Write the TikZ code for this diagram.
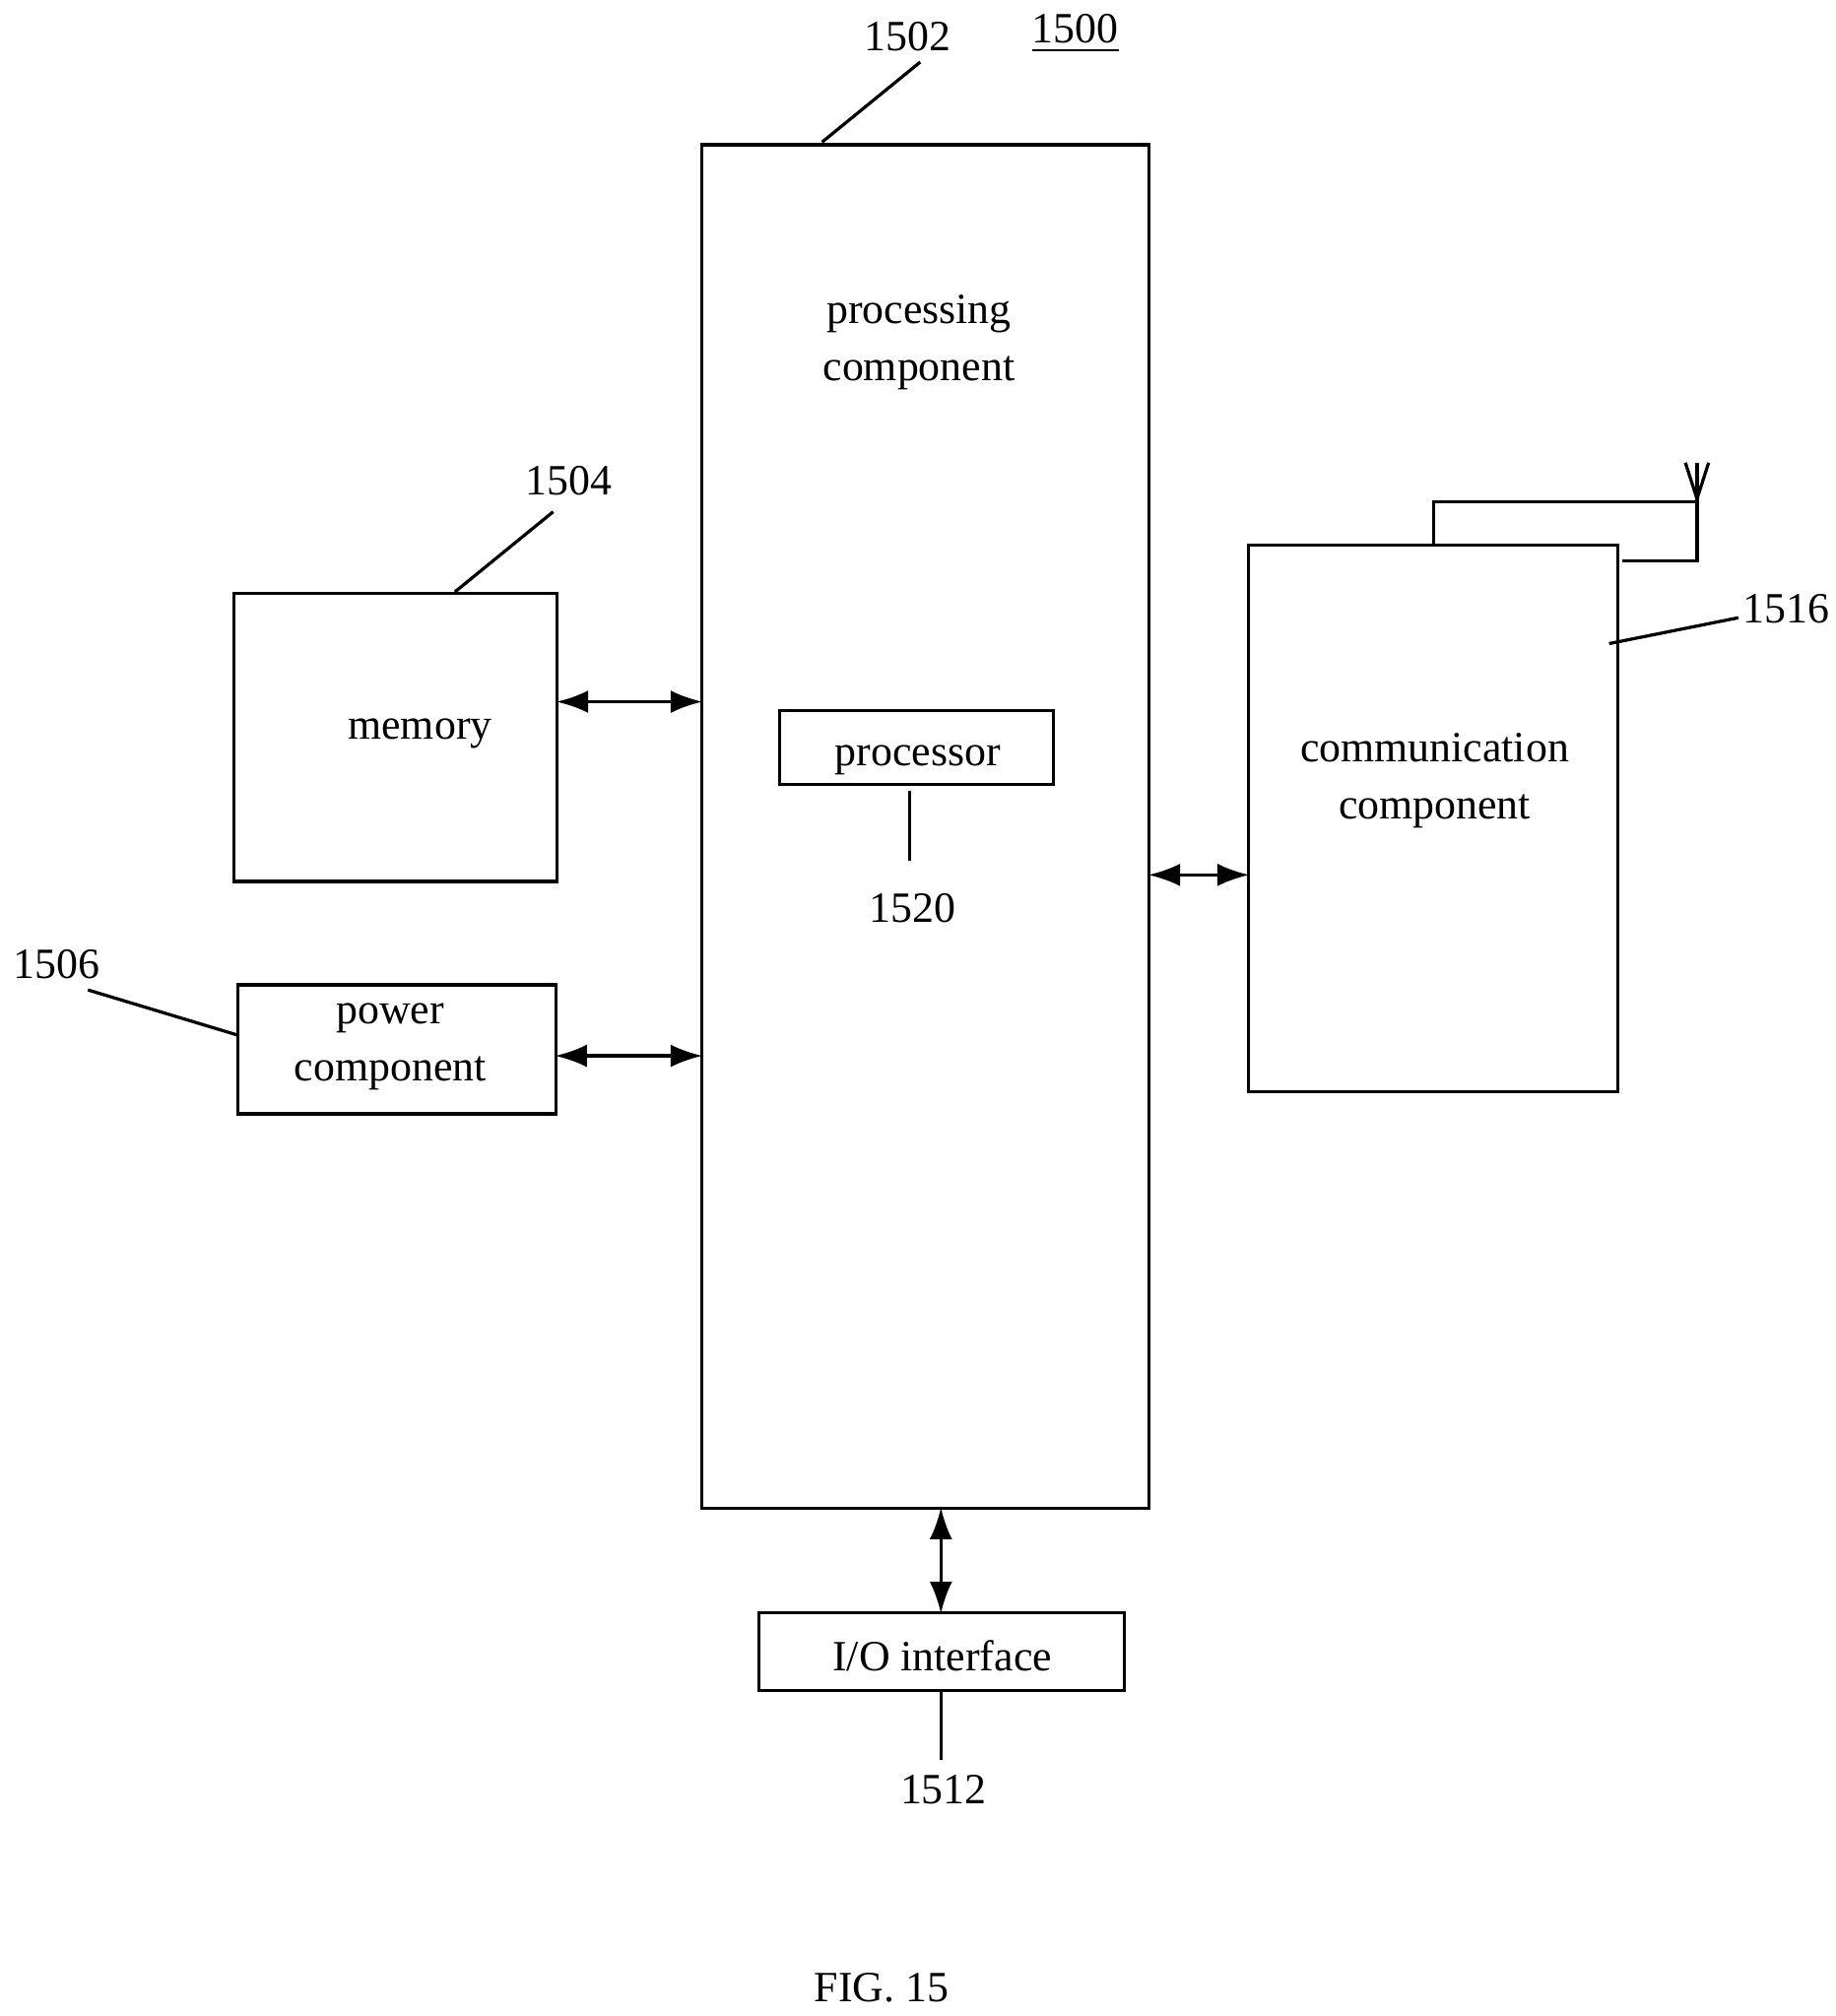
\documentclass[tikz,border=0pt]{standalone}
\usepackage{fontspec}
\setmainfont{Liberation Serif}
\usetikzlibrary{arrows.meta}
\begin{document}
\begin{tikzpicture}[x=0.01cm, y=-0.01cm, line width=0.7pt,
    box/.style={draw, inner sep=0pt},
    lbl/.style={font=\fontsize{9.5}{12.5}\selectfont, align=center, inner sep=0pt},
    dbl/.style={{Latex[length=7pt,width=5pt]}-{Latex[length=7pt,width=5pt]}, shorten <=-0.5pt, shorten >=-0.5pt}]
  \useasboundingbox (0,0) rectangle (1420,1560);
  % boxes
  \node[box, minimum width=346*0.01cm, minimum height=1055*0.01cm] (proc) at (716,639.5) {};
  \node[box, minimum width=250*0.01cm, minimum height=223*0.01cm] (mem) at (306,570.5) {};
  \node[box, minimum width=246*0.01cm, minimum height=100*0.01cm] (pow) at (307,812) {};
  \node[box, minimum width=212*0.01cm, minimum height=57*0.01cm] (cpu) at (709,578.5) {};
  \node[box, minimum width=286*0.01cm, minimum height=423*0.01cm] (comm) at (1109,633.5) {};
  \node[box, minimum width=283*0.01cm, minimum height=60*0.01cm] (io) at (728.5,1278) {};
  % texts
  \node[lbl] at (711,265) {processing\\component};
  \node[lbl] at (325,568) {memory};
  \node[lbl] at (302,810) {power\\component};
  \node[lbl] at (710,588) {processor};
  \node[lbl] at (1110,604) {communication\\component};
  \node[lbl] at (729,1281) {I/O interface};
  \node[lbl] (n1500) at (832,26) {\underline{1500}};
  \node[lbl] (n1502) at (702,28) {1502};
  \node[lbl] (n1504) at (440,372) {1504};
  \node[lbl] (n1506) at (44,746) {1506};
  \node[lbl] (n1516) at (1382,471) {1516};
  \node[lbl] (n1520) at (706,703) {1520};
  \node[lbl] (n1512) at (730,1385) {1512};
  \node[lbl] (fig) at (682,1538) {FIG. 15};
  % connectors
  \coordinate (ya) at (0,543);
  \coordinate (yb) at (0,817);
  \coordinate (yc) at (0,677);
  \coordinate (xd) at (728,0);
  \draw[dbl] (mem.east|-ya) -- (proc.west|-ya);
  \draw[dbl] (pow.east|-yb) -- (proc.west|-yb);
  \draw[dbl] (proc.east|-yc) -- (comm.west|-yc);
  \draw[dbl] (proc.south-|xd) -- (io.north-|xd);
  % leader lines
  \draw (636,110) -- (712,48);
  \draw (352,458) -- (428,396);
  \draw (68,766) -- (184,801);
  \draw (1245,498) -- (1345,478);
  \draw (704,612) -- (704,666);
  \draw (io.south-|xd) -- (728,1362);
  % antenna
  \draw (1109,422) -- (1109,388) -- (1313,388) -- (1313,434) -- (1255,434);
  \draw (1313,388) -- (1313,358);
  \draw (1304,358) -- (1313,386) -- (1322,358);
\end{tikzpicture}
\end{document}
